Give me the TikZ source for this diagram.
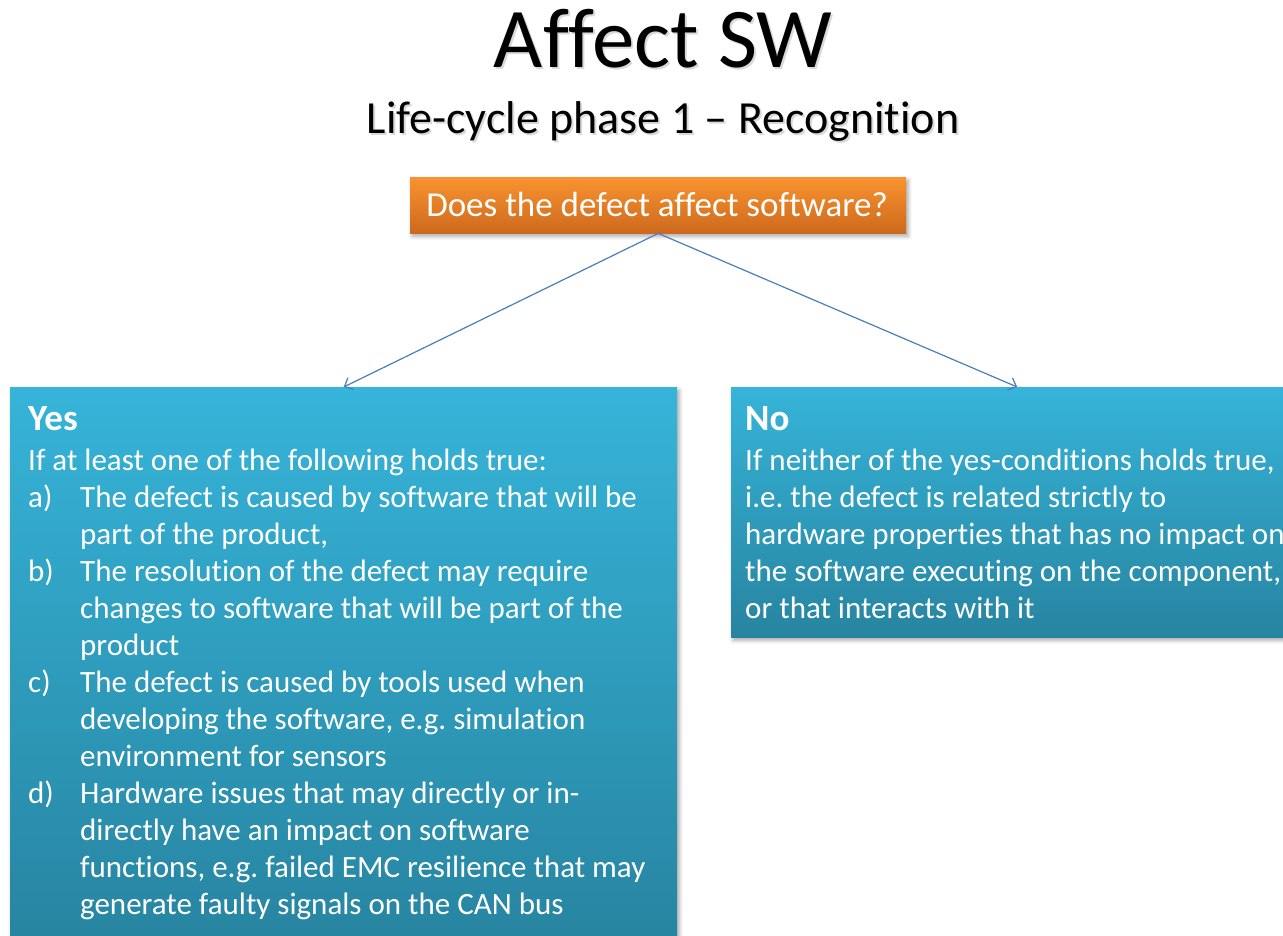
\documentclass[tikz,border=0pt]{standalone}
\usepackage{fontspec}
\setmainfont{Carlito}[Ligatures=NoCommon]
\usetikzlibrary{arrows.meta,shadows.blur}
\frenchspacing

\definecolor{cyanTop}{HTML}{36B4D9}
\definecolor{cyanBot}{HTML}{2784A0}
\definecolor{orTop}{HTML}{F9932F}
\definecolor{orBot}{HTML}{CD691D}
\definecolor{linkblue}{HTML}{4A7EBB}

\begin{document}
\begin{tikzpicture}[x=1pt,y=-1pt,
  panel/.style={rectangle, inner sep=0pt, anchor=north west,
    top color=cyanTop, bottom color=cyanBot, draw=none,
    blur shadow={shadow xshift=2pt, shadow yshift=-3pt,
      shadow blur radius=4pt, shadow opacity=35}},
  question/.style={rectangle, inner sep=0pt, anchor=north west,
    top color=orTop, bottom color=orBot, draw=none,
    blur shadow={shadow xshift=2pt, shadow yshift=-3pt,
      shadow blur radius=4pt, shadow opacity=35}},
  body/.style={inner sep=0pt, anchor=base west, text=white,
    font=\fontsize{31}{37}\selectfont},
  head/.style={inner sep=0pt, anchor=base west, text=white,
    font=\bfseries\fontsize{37}{40}\selectfont},
  link/.style={draw=linkblue, line width=1.2pt,
    -{Straight Barb[length=7pt,width=13pt,line width=1.2pt]}}]

\useasboundingbox (0,0) rectangle (1283,935);

% headings
\node[inner sep=0pt, anchor=base, text=black!60, opacity=0.25,
  font=\fontsize{85}{90}\selectfont] (titleshadow) at (665,69) {Affect SW};
\node[inner sep=0pt, anchor=base, font=\fontsize{85}{90}\selectfont]
  (title) at (663,67) {Affect SW};
\node[inner sep=0pt, anchor=base, text=black!60, opacity=0.25,
  font=\fontsize{46}{50}\selectfont] (subshadow) at (665,135)
  {Life-cycle phase 1 – Recognition};
\node[inner sep=0pt, anchor=base, font=\fontsize{46}{50}\selectfont]
  (subtitle) at (663,133) {Life-cycle phase 1 – Recognition};

% decision box
\node[question, minimum width=496pt, minimum height=56pt] (q) at (410,177) {};
\node[inner sep=0pt, anchor=base, text=white,
  font=\fontsize{35}{40}\selectfont] (qtext) at (657,216)
  {Does the defect affect software?};

% answer panels
\node[panel, minimum width=667pt, minimum height=560pt] (yes) at (10,387) {};
\node[panel, minimum width=572pt, minimum height=250pt] (no) at (731,387) {};

% connectors
\draw[link] (q.south) -- (yes.north);
\draw[link] (q.south) -- (no.north);

% "Yes" panel text
\node[head] (yeshead) at (28,430) {Yes};
\foreach \xx/\txt [count=\i] in {
  28/{If at least one of the following holds true:},
  80/{The defect is caused by software that will be},
  80/{part of the product,},
  80/{The resolution of the defect may require},
  80/{changes to software that will be part of the},
  80/{product},
  80/{The defect is caused by tools used when},
  80/{developing the software, e.g. simulation},
  80/{environment for sensors},
  80/{Hardware issues that may directly or in-},
  80/{directly have an impact on software},
  80/{functions, e.g. failed EMC resilience that may},
  80/{generate faulty signals on the CAN bus}}
  \node[body] (yl\i) at (\xx,{470+37*(\i-1)}) {\txt};
\foreach \lab/\row in {a/2, b/4, c/7, d/10}
  \node[body] (lab\lab) at (28,{470+37*(\row-1)}) {\lab)};

% "No" panel text
\node[head] (nohead) at (745,430) {No};
\foreach \txt [count=\i] in {
  {If neither of the yes-conditions holds true,},
  {i.e. the defect is related strictly to},
  {hardware properties that has no impact on},
  {the software executing on the component,},
  {or that interacts with it}}
  \node[body] (nl\i) at (745,{470+37*(\i-1)}) {\txt};

\end{tikzpicture}
\end{document}
